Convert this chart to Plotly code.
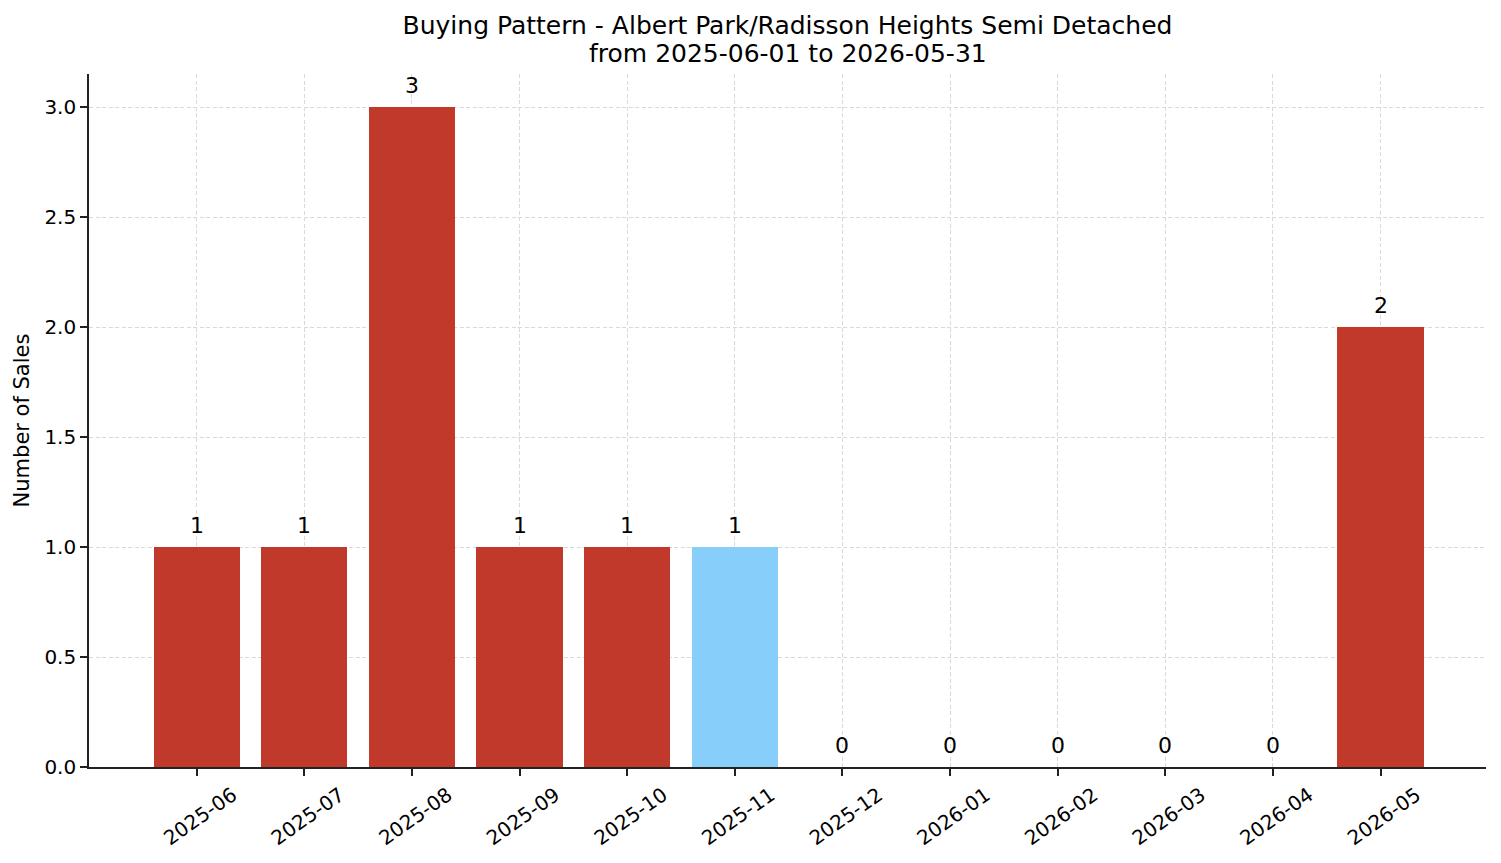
import plotly.graph_objects as go

months = ["2025-06", "2025-07", "2025-08", "2025-09", "2025-10", "2025-11",
          "2025-12", "2026-01", "2026-02", "2026-03", "2026-04", "2026-05"]
sales = [1, 1, 3, 1, 1, 1, 0, 0, 0, 0, 0, 2]
highlight_month = "2025-11"
title_line1 = "Buying Pattern - Albert Park/Radisson Heights Semi Detached"
title_line2 = "from 2025-06-01 to 2026-05-31"

RED = "#C0392B"
BLUE = "#87CEFA"
colors = [BLUE if m == highlight_month else RED for m in months]

FONT = "DejaVu Sans"
H = 863

fig = go.Figure()
fig.add_trace(go.Bar(
    x=list(range(len(months))), y=sales, width=0.8,
    marker=dict(color=colors, line=dict(width=0)),
    hoverinfo="skip", showlegend=False,
))

for i, v in enumerate(sales):
    fig.add_annotation(
        x=i, y=v, xref="x", yref="y", text=str(v), showarrow=False,
        yanchor="bottom", yshift=7, font=dict(family=FONT, size=22, color="#000"),
    )

# second title line
fig.add_annotation(
    x=0.5, xref="paper", y=1 + (74 - 54) / 693, yref="paper",
    xanchor="center", yanchor="middle", showarrow=False,
    text=title_line2, font=dict(family=FONT, size=25, color="#000"),
)

fig.update_layout(
    width=1501, height=H,
    margin=dict(l=89, r=15, t=74, b=96),
    paper_bgcolor="white", plot_bgcolor="white",
    font=dict(family=FONT, size=20, color="#000"),
    title=dict(
        text=title_line1,
        x=0.5, xref="paper", xanchor="center",
        y=1 - 25 / H, yref="container", yanchor="middle",
        font=dict(family=FONT, size=25, color="#000"),
    ),
    bargap=0,
)

grid = dict(showgrid=True, gridcolor="#d9d9d9", gridwidth=1, griddash="4px,2.5px",
            layer="above traces")

fig.update_xaxes(
    range=[-1.0, 11.98], tickmode="array",
    tickvals=list(range(len(months))), ticktext=months, tickangle=-35,
    ticklabelshift=36,
    showline=True, linecolor="#222", linewidth=1.6,
    ticks="outside", ticklen=7, tickwidth=1.6, tickcolor="#222",
    zeroline=False, mirror=False, **grid,
)
fig.update_yaxes(
    range=[0, 3.15], tickmode="array",
    tickvals=[0, 0.5, 1.0, 1.5, 2.0, 2.5, 3.0],
    ticktext=["0.0", "0.5", "1.0", "1.5", "2.0", "2.5", "3.0"],
    showline=True, linecolor="#222", linewidth=1.6,
    ticks="outside", ticklen=7, tickwidth=1.6, tickcolor="#222",
    zeroline=False, mirror=False,
    title=dict(text="Number of Sales", standoff=9, font=dict(family=FONT, size=21)),
    **grid,
)

fig.write_html("out.html")
